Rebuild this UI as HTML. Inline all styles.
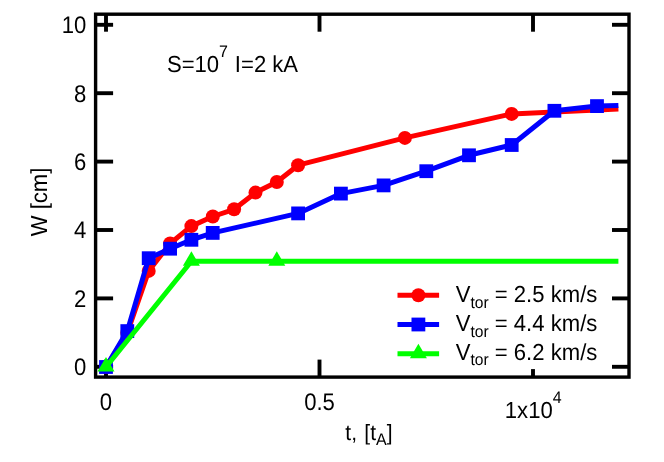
<!DOCTYPE html>
<html><head><meta charset="utf-8"><title>chart</title>
<style>
html,body{margin:0;padding:0;background:#fff;}
body{width:664px;height:462px;overflow:hidden;}
svg{display:block;will-change:transform;}
text{font-family:"Liberation Sans",sans-serif;fill:#000;text-rendering:geometricPrecision;}
</style></head><body>
<svg width="664" height="462" viewBox="0 0 664 462">
<rect width="664" height="462" fill="#fff"/>

<rect x="95.6" y="14.2" width="533.4" height="362.90000000000003" fill="none" stroke="#000" stroke-width="3.4"/>
<line x1="95.6" y1="366.8" x2="113.1" y2="366.8" stroke="#000" stroke-width="3.9"/>
<line x1="629.0" y1="366.8" x2="612.0" y2="366.8" stroke="#000" stroke-width="3.9"/>
<line x1="95.6" y1="298.4" x2="113.1" y2="298.4" stroke="#000" stroke-width="3.9"/>
<line x1="629.0" y1="298.4" x2="612.0" y2="298.4" stroke="#000" stroke-width="3.9"/>
<line x1="95.6" y1="230.0" x2="113.1" y2="230.0" stroke="#000" stroke-width="3.9"/>
<line x1="629.0" y1="230.0" x2="612.0" y2="230.0" stroke="#000" stroke-width="3.9"/>
<line x1="95.6" y1="161.6" x2="113.1" y2="161.6" stroke="#000" stroke-width="3.9"/>
<line x1="629.0" y1="161.6" x2="612.0" y2="161.6" stroke="#000" stroke-width="3.9"/>
<line x1="95.6" y1="93.2" x2="113.1" y2="93.2" stroke="#000" stroke-width="3.9"/>
<line x1="629.0" y1="93.2" x2="612.0" y2="93.2" stroke="#000" stroke-width="3.9"/>
<line x1="95.6" y1="24.8" x2="113.1" y2="24.8" stroke="#000" stroke-width="3.9"/>
<line x1="629.0" y1="24.8" x2="612.0" y2="24.8" stroke="#000" stroke-width="3.9"/>
<line x1="106.0" y1="14.2" x2="106.0" y2="31.7" stroke="#000" stroke-width="3.9"/>
<line x1="106.0" y1="377.1" x2="106.0" y2="359.6" stroke="#000" stroke-width="3.9"/>
<line x1="319.5" y1="14.2" x2="319.5" y2="31.7" stroke="#000" stroke-width="3.9"/>
<line x1="319.5" y1="377.1" x2="319.5" y2="359.6" stroke="#000" stroke-width="3.9"/>
<line x1="533.0" y1="14.2" x2="533.0" y2="31.7" stroke="#000" stroke-width="3.9"/>
<line x1="533.0" y1="377.1" x2="533.0" y2="359.6" stroke="#000" stroke-width="3.9"/>
<polyline points="106.0,367.0 127.3,332.8 148.7,270.9 170.1,243.5 191.4,226.1 212.8,216.5 234.1,209.3 255.5,192.6 276.8,182.0 298.1,165.2 404.9,137.9 511.7,113.9 618.4,109.0" fill="none" stroke="#f00" stroke-width="5" stroke-linejoin="round"/>
<circle cx="106.0" cy="367.0" r="7.0" fill="#f00"/>
<circle cx="127.3" cy="332.8" r="7.0" fill="#f00"/>
<circle cx="148.7" cy="270.9" r="7.0" fill="#f00"/>
<circle cx="170.1" cy="243.5" r="7.0" fill="#f00"/>
<circle cx="191.4" cy="226.1" r="7.0" fill="#f00"/>
<circle cx="212.8" cy="216.5" r="7.0" fill="#f00"/>
<circle cx="234.1" cy="209.3" r="7.0" fill="#f00"/>
<circle cx="255.5" cy="192.6" r="7.0" fill="#f00"/>
<circle cx="276.8" cy="182.0" r="7.0" fill="#f00"/>
<circle cx="298.1" cy="165.2" r="7.0" fill="#f00"/>
<circle cx="404.9" cy="137.9" r="7.0" fill="#f00"/>
<circle cx="511.7" cy="113.9" r="7.0" fill="#f00"/>
<polyline points="106.0,367.0 127.3,331.1 148.7,258.2 170.1,248.7 191.4,239.8 212.8,232.9 298.1,213.4 340.9,193.6 383.6,185.4 426.2,171.2 468.9,155.3 511.7,145.0 554.4,110.8 597.0,106.1 618.4,105.4" fill="none" stroke="#00f" stroke-width="5" stroke-linejoin="round"/>
<rect x="99.1" y="360.1" width="13.8" height="13.8" fill="#00f"/>
<rect x="120.4" y="324.2" width="13.8" height="13.8" fill="#00f"/>
<rect x="141.8" y="251.3" width="13.8" height="13.8" fill="#00f"/>
<rect x="163.2" y="241.8" width="13.8" height="13.8" fill="#00f"/>
<rect x="184.5" y="232.9" width="13.8" height="13.8" fill="#00f"/>
<rect x="205.8" y="226.0" width="13.8" height="13.8" fill="#00f"/>
<rect x="291.2" y="206.5" width="13.8" height="13.8" fill="#00f"/>
<rect x="334.0" y="186.7" width="13.8" height="13.8" fill="#00f"/>
<rect x="376.7" y="178.5" width="13.8" height="13.8" fill="#00f"/>
<rect x="419.4" y="164.3" width="13.8" height="13.8" fill="#00f"/>
<rect x="462.1" y="148.4" width="13.8" height="13.8" fill="#00f"/>
<rect x="504.8" y="138.1" width="13.8" height="13.8" fill="#00f"/>
<rect x="547.5" y="103.9" width="13.8" height="13.8" fill="#00f"/>
<rect x="590.1" y="99.2" width="13.8" height="13.8" fill="#00f"/>
<polyline points="106.0,367.0 191.4,261.3 276.8,261.3 618.4,261.3" fill="none" stroke="#0f0" stroke-width="5" stroke-linejoin="round"/>
<polygon points="106.0,357.0 97.5,371.5 114.5,371.5" fill="#0f0"/>
<polygon points="191.4,251.3 182.9,265.8 199.9,265.8" fill="#0f0"/>
<polygon points="276.8,251.3 268.3,265.8 285.3,265.8" fill="#0f0"/>
<text transform="translate(86.3,375.1) scale(1,1.09)" font-size="22.1" text-anchor="end">0</text>
<text transform="translate(86.3,306.7) scale(1,1.09)" font-size="22.1" text-anchor="end">2</text>
<text transform="translate(86.3,238.3) scale(1,1.09)" font-size="22.1" text-anchor="end">4</text>
<text transform="translate(86.3,169.9) scale(1,1.09)" font-size="22.1" text-anchor="end">6</text>
<text transform="translate(86.3,101.5) scale(1,1.09)" font-size="22.1" text-anchor="end">8</text>
<text transform="translate(86.3,33.1) scale(1,1.09)" font-size="22.1" text-anchor="end">10</text>
<text transform="translate(106.0,409.6) scale(1,1.09)" font-size="22.1" text-anchor="middle">0</text>
<text transform="translate(319.5,409.6) scale(1,1.09)" font-size="22.1" text-anchor="middle">0.5</text>
<text transform="translate(504.8,417.5) scale(1,1.05)" font-size="22.1" text-anchor="start">1x10<tspan dy="-14.29" font-size="16">4</tspan></text>
<text transform="translate(345.3,439.5) scale(1,1.05)" font-size="21" text-anchor="start">t,<tspan dx="1.5"> [t</tspan><tspan dy="4.95" font-size="16">A</tspan><tspan dy="-4.95">]</tspan></text>
<text transform="translate(47.2,202.0) rotate(-90) scale(1,1.05)" font-size="22.1" text-anchor="middle">W [cm]</text>
<text transform="translate(166.9,71.7) scale(1,1.05)" font-size="22.1" text-anchor="start">S=10<tspan dy="-14.29" font-size="16">7</tspan><tspan dy="14.29" dx="0.7"> I=2 kA</tspan></text>
<rect x="390" y="280" width="216" height="89.1" fill="#fff"/>
<line x1="397.5" y1="295.3" x2="439.1" y2="295.3" stroke="#f00" stroke-width="5"/>
<circle cx="418.4" cy="295.3" r="7.0" fill="#f00"/>
<text transform="translate(455.7,302.3) scale(1,1.05)" font-size="22.1" text-anchor="start">V<tspan dy="5.24" font-size="15.6">tor</tspan><tspan dy="-5.24"> = 2.5 km/s</tspan></text>
<line x1="397.5" y1="324.5" x2="439.1" y2="324.5" stroke="#00f" stroke-width="5"/>
<rect x="411.5" y="317.6" width="13.8" height="13.8" fill="#00f"/>
<text transform="translate(455.7,331.0) scale(1,1.05)" font-size="22.1" text-anchor="start">V<tspan dy="5.24" font-size="15.6">tor</tspan><tspan dy="-5.24"> = 4.4 km/s</tspan></text>
<line x1="397.5" y1="353.7" x2="439.1" y2="353.7" stroke="#0f0" stroke-width="5"/>
<polygon points="418.4,343.7 409.9,358.2 426.9,358.2" fill="#0f0"/>
<text transform="translate(455.7,359.9) scale(1,1.05)" font-size="22.1" text-anchor="start">V<tspan dy="5.24" font-size="15.6">tor</tspan><tspan dy="-5.24"> = 6.2 km/s</tspan></text>
</svg></body></html>
